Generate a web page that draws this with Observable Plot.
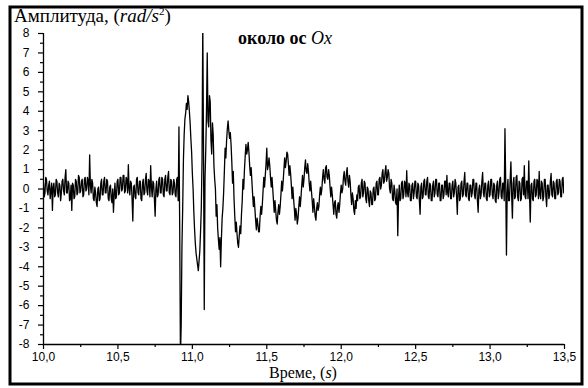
<!DOCTYPE html>
<html>
<head>
<meta charset="utf-8">
<script src="https://cdn.jsdelivr.net/npm/d3@7"></script>
<script src="https://cdn.jsdelivr.net/npm/@observablehq/plot@0.6"></script>
<style>
  html, body { margin: 0; padding: 0; background: #fff; }
  #chart svg { display: block; }
</style>
</head>
<body>
<div id="chart"></div>
<script>
// Sampled signal: start time and sampling step (s)
const t0 = 10.0;
const dt = 0.005;

// Amplitude (rad/s^2), 10.000 – 10.875 s: background noise before the event
const preEvent = [
  0.3, -0.4, -0.2, 0.6, 0.5, -0.1, -0.3, 0.2, 0.4, -0.5,
  -0.1, 0.3, -1.1, 0.1, 0.3, -0.4, -0.3, 0.5, 0.4, -0.2,
  -0.4, 0.3, 0.2, -0.6, -0.2, 0.4, 0.5, -0.1, -0.3, 0.6,
  1.0, -0.2, -0.2, 0.4, 0.3, -0.6, -0.5, 0.2, -1.1, 0.3,
  0.2, -0.5, -0.4, 0.5, 0.4, -0.3, -0.2, 0.7, 0.6, -0.2,
  -0.1, 0.4, 0.5, -0.4, -0.3, 0.5, 0.6, -0.1, 0.0, 0.6,
  0.4, -0.3, 1.75, 0.2, -0.2, 0.5, 0.3, -0.5, -0.6, 0.1,
  -0.2, -0.7, -0.9, 0.0, 0.1, -0.6, -0.5, 0.3, 0.5, -0.3,
  -0.3, 0.4, 0.6, -0.2, -0.2, 0.5, 0.4, -0.5, -0.6, 0.1,
  0.2, -0.5, -0.7, 0.0, -1.2, -0.3, 0.3, -0.5, -0.4, 0.4,
  0.5, -0.3, -0.2, 0.6, 0.6, -0.1, 0.0, 0.7, 0.7, -0.2,
  -0.1, 0.6, 0.5, -0.2, 1.25, 0.0, -0.3, 0.4, 0.3, -0.5,
  -1.65, 0.1, 0.2, -0.4, -0.5, 0.5, 0.6, -0.2, -0.3, 0.4,
  0.4, -0.5, -0.6, 0.3, 0.5, -0.3, -0.2, 0.5, 0.8, -0.1,
  -0.3, 0.5, 0.4, -0.4, 1.2, 0.1, -0.4, 0.4, 0.3, -0.5,
  -1.4, 0.0, 0.4, -0.4, -0.3, 0.5, 0.6, -0.2, -0.2, 0.6,
  0.5, -0.3, -0.4, 0.5, 0.7, -0.1, -0.1, 0.6, 0.9, -0.2,
  -0.3, 0.5, 0.4, -0.3, -0.2, 0.5
];

// Amplitude, 10.880 – 12.100 s: the event and decaying oscillation
const event = [
  0.3, -0.3, -0.4, 0.5, 0.6, -0.6, 3.2, -2.0, -8.6, -7.0,
  -3.0, -1.0, 1.5, 2.8, 3.6, 3.9, 4.4, 4.1, 4.8, 4.5,
  4.0, 3.4, 2.6, 1.9, 0.8, 0.0, -1.2, -2.1, -2.8, -3.3,
  -3.6, -3.9, -4.2, -3.7, -3.2, -2.2, -1.0, 1.5, 8.6, 2.0,
  -6.2, 0.5, 2.0, 4.0, 7.0, 3.5, 3.2, 4.8, 4.5, 2.5,
  1.8, 3.4, 2.8, 1.2, 0.5, 0.0, -1.4, -0.8, -2.0, -2.6,
  -3.1, -2.5, -4.0, -2.6, -1.5, -1.0, -0.2, 0.9, 2.1, 1.6,
  2.5, 3.1, 3.5, 3.0, 2.6, 2.9, 2.3, 1.4, 0.3, 0.9,
  -0.5, -1.4, -2.2, -1.7, -2.3, -2.8, -3.0, -2.4, -1.9, -2.3,
  -1.3, -0.6, 0.5, 0.0, 1.0, 1.7, 2.3, 1.8, 2.0, 2.4,
  1.9, 1.2, 0.7, 1.1, 0.4, -0.3, -0.9, -0.4, -1.0, -1.6,
  -2.1, -1.5, -1.8, -2.2, -2.2, -1.4, -0.9, -1.3, -0.8, -0.1,
  0.6, 0.1, 0.7, 1.3, 2.1, 1.0, 1.2, 1.6, 1.2, 0.6,
  0.1, 0.6, 0.0, -0.6, -1.2, -0.6, -1.1, -1.6, -1.8, -1.2,
  -0.8, -1.3, -0.9, -0.3, 0.4, -0.1, 0.4, 1.0, 1.6, 1.1,
  1.4, 1.9, 1.8, 1.3, 0.7, 1.2, 0.8, 0.2, -0.5, 0.1,
  -0.5, -1.0, -1.6, -1.0, -1.3, -1.8, -1.5, -0.9, -0.4, -0.9,
  -0.4, 0.2, 0.7, 0.1, 0.5, 1.1, 1.5, 0.9, 0.8, 1.3,
  0.9, 0.3, -0.1, 0.4, -0.1, -0.6, -1.2, -0.5, -0.9, -1.4,
  -1.6, -1.0, -0.7, -1.1, -0.9, -0.3, 0.1, -0.3, 0.0, 0.6,
  1.0, 0.5, 0.3, 1.1, 1.2, 0.6, 0.5, 1.0, 0.7, 0.1,
  -0.4, 0.1, -0.3, -0.8, -1.3, -0.7, -0.6, -1.3, -1.5, -0.9,
  -0.7, -1.2, -0.8, -0.2, 0.2, -0.2, 0.0, 0.6, 0.9, 0.4,
  0.2, 0.8, 1.1, 0.4, 0.1, 0.7, 0.4, -0.3, -0.8, -0.2,
  -0.5, -1.1, -1.3, -0.6, -1.0
];

// Amplitude, 12.105 – 13.500 s: tail noise
const tail = [
  -0.3, -0.6, 0.1, 0.2, -0.5, -0.4, 0.3, 0.5, -0.4, -0.2,
  0.4, 0.3, -0.5, -0.7, 0.1, 0.0, -0.6, -0.9, -0.1, -0.2,
  -0.8, -0.8, 0.0, 0.1, -0.6, -0.5, 0.3, 0.4, -0.3, -0.3,
  0.5, 0.6, 0.0, 0.2, 0.8, 1.0, 0.3, 0.4, 0.9, 1.2,
  0.4, 0.6, 1.0, 0.8, 0.0, -0.2, 0.5, 0.3, -0.5, -0.6,
  0.2, -0.1, -0.7, -0.8, 0.0, -2.4, -0.5, 0.2, -0.6, -0.5,
  0.3, 0.4, -0.5, -0.3, 0.4, 0.3, -0.4, 0.95, -0.2, -0.4,
  0.3, 0.2, -0.6, -0.6, 0.2, 0.3, -0.5, -0.2, 0.4, 0.4,
  -0.4, -0.5, 0.3, 0.2, -0.6, -1.3, 0.1, 0.3, -0.5, -0.4,
  0.4, 0.5, -0.3, -0.3, 0.4, 0.6, -0.4, -0.5, 0.3, 0.2,
  -0.6, -0.6, 0.2, 0.4, -0.4, -0.2, 0.5, 0.5, -0.3, -0.4,
  0.3, 0.3, -0.6, -0.6, 0.2, 0.2, -0.5, -0.3, 0.4, 0.4,
  -0.3, 0.7, -0.2, -0.4, 0.3, 0.3, -0.5, -0.5, 0.2, 0.4,
  -0.4, -0.2, 0.5, 0.3, -0.4, -1.3, 0.1, 0.2, -0.6, -0.5,
  0.3, 0.4, -0.4, -0.3, 0.4, 0.85, -0.3, -0.4, 0.3, 0.3,
  -0.5, -0.6, 0.2, 0.2, -0.4, -0.2, 0.5, 0.5, -0.3, -0.5,
  0.3, 0.3, -0.6, -1.2, 0.0, 0.2, -0.5, -0.3, 0.4, 0.85,
  -0.2, -0.4, 0.3, 0.3, -0.5, -0.6, 0.2, 0.4, -0.4, -0.3,
  0.5, 0.5, -0.3, -0.5, 0.3, 0.2, -0.6, -0.7, 0.2, 0.4,
  -0.5, -0.2, 0.5, 0.6, -0.4, -0.5, 0.3, 0.3, -0.6, 3.1,
  0.4, -3.4, -0.2, 0.5, -0.6, -0.6, 0.5, 1.4, -0.3, -1.5,
  0.3, 0.6, -0.5, -0.4, 0.6, 0.7, -0.4, -0.6, 0.4, 0.3,
  -0.6, -0.5, 0.5, 0.6, -0.3, 1.2, -0.4, -0.5, 0.4, 0.4,
  -0.5, 1.45, -0.3, -1.7, 0.2, 0.3, -0.5, -0.6, 0.4, 0.5,
  -0.4, -0.3, 0.5, 0.4, -0.5, 0.9, -0.3, -0.5, 0.4, 0.3,
  -0.6, -0.4, 0.5, 0.5, -0.4, -0.9, 0.2, 0.2, -0.5, -0.3,
  0.4, 0.8, -0.3, -0.4, 0.4, 0.3, -0.5, -0.5, 0.4, 0.5,
  -0.3, -0.2, 0.5, 0.4, -0.4, -0.4, 0.5, 0.6, -0.2, 0.1
];

// Axis ticks
const xTicks = [10.0, 10.5, 11.0, 11.5, 12.0, 12.5, 13.0, 13.5];
const xMinorTicks = [10.25, 10.75, 11.25, 11.75, 12.25, 12.75, 13.25];
const yTicks = [-8, -7, -6, -5, -4, -3, -2, -1, 0, 1, 2, 3, 4, 5, 6, 7, 8];
const yMinorTicks = [-7.5, -6.5, -5.5, -4.5, -3.5, -2.5, -1.5, -0.5, 0.5, 1.5, 2.5, 3.5, 4.5, 5.5, 6.5, 7.5];

const values = [...preEvent, ...event, ...tail];
const data = values.map((v, i) => ({t: +(t0 + i * dt).toFixed(3), a: v}));

const W = 588, H = 388;
const chart = Plot.plot({
  width: W,
  height: H,
  marginLeft: 43,
  marginRight: 24,
  marginTop: 33,
  marginBottom: 44,
  style: {fontFamily: "'Liberation Sans', Arial, sans-serif", fontSize: "12px", color: "#000", background: "#fff", overflow: "visible"},
  x: {domain: [10, 13.5]},
  y: {domain: [-8, 8]},
  marks: [
    Plot.line(data, {x: "t", y: "a", stroke: "#000", strokeWidth: 1.3, clip: true}),
    Plot.ruleX([10], {stroke: "#000", strokeWidth: 1.3}),
    Plot.ruleY([-8], {stroke: "#000", strokeWidth: 1.3}),
    Plot.axisX(xTicks, {tickSize: 5, tickPadding: 3, strokeWidth: 1.2, label: null,
      tickFormat: d => d.toFixed(1).replace(".", ","), fontSize: 12}),
    Plot.axisX(xMinorTicks, {tickSize: 3, strokeWidth: 1.2, label: null, tickFormat: () => ""}),
    Plot.axisY(yTicks, {tickSize: 5, tickPadding: 9, strokeWidth: 1.2, label: null,
      tickFormat: d => String(d), fontSize: 12}),
    Plot.axisY(yMinorTicks, {tickSize: 3, strokeWidth: 1.2, label: null, tickFormat: () => ""})
  ]
});

const svg = d3.select(chart);
// outer frame
svg.append("rect")
  .attr("x", 10).attr("y", 7).attr("width", 572).attr("height", 377)
  .attr("fill", "none").attr("stroke", "#000").attr("stroke-width", 3);

const serif = "'Liberation Serif', 'Times New Roman', serif";
// y title
const yt = svg.append("text")
  .attr("x", 14).attr("y", 22).attr("text-anchor", "start")
  .attr("font-family", serif).attr("font-size", 19).attr("fill", "#000");
yt.append("tspan").text("Амплитуда, (");
yt.append("tspan").attr("font-style", "italic").text("rad/s");
yt.append("tspan").attr("font-size", 11).attr("dy", -7).text("2");
yt.append("tspan").attr("dy", 7).text(")");

// inner annotation
const an = svg.append("text")
  .attr("x", 238).attr("y", 44).attr("text-anchor", "start")
  .attr("font-family", serif).attr("font-size", 18).attr("font-weight", "bold").attr("fill", "#000");
an.append("tspan").text("около ос ");
an.append("tspan").attr("font-style", "italic").attr("font-weight", "normal").text("Ox");

// x title
const xt = svg.append("text")
  .attr("x", 303).attr("y", 378).attr("text-anchor", "middle")
  .attr("font-family", serif).attr("font-size", 16).attr("fill", "#000");
xt.append("tspan").text("Време, (");
xt.append("tspan").attr("font-style", "italic").text("s");
xt.append("tspan").text(")");

document.getElementById("chart").appendChild(chart);
</script>
</body>
</html>
